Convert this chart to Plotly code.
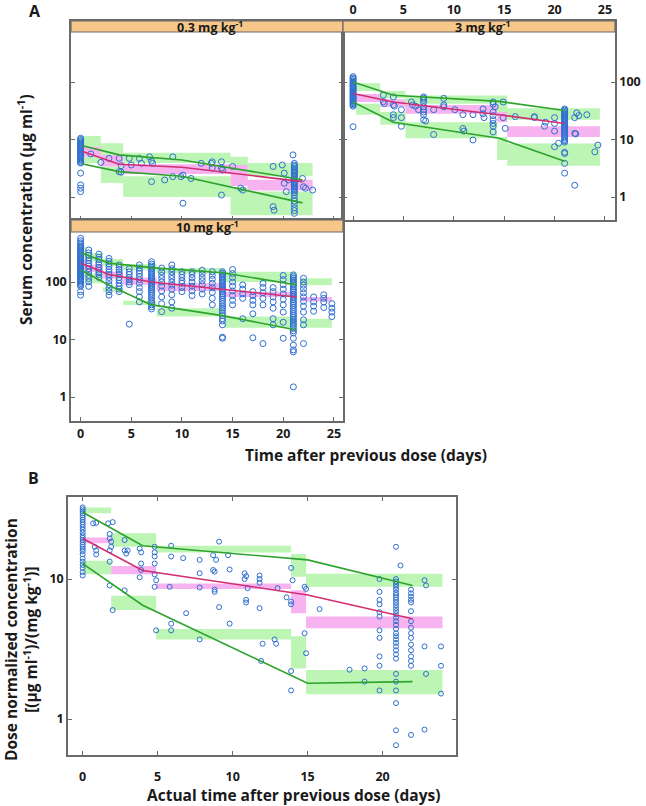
import plotly.graph_objects as go

W, H = 646, 806

# ---------------- Panel A : 0.3 mg/kg ----------------
a03_col_t = [0.0, 21.1]
a03_col_c = [
    [10.5, 10.0, 9.5, 9.1, 8.7, 8.3, 7.9, 7.6, 7.2, 6.9, 6.6, 6.3, 6.0, 5.8, 5.5, 5.3, 5.0, 4.8, 4.6, 4.4,
     4.2, 4.0, 3.9, 2.6, 1.62, 1.42, 1.24],
    [3.85, 3.6, 3.4, 3.2, 3.0, 2.85, 2.7, 2.55, 2.4, 2.28, 2.16, 2.05, 1.95, 1.85, 1.75, 1.66, 1.58, 1.5,
     1.42, 1.35, 1.28, 1.2, 1.1, 0.95, 0.85, 0.75, 0.65, 0.58, 0.52],
]
a03_pts = [[1.0, 5.6], [2.0, 4.0], [2.8, 4.7], [3.8, 4.7], [3.8, 2.76], [4.0, 2.7], [4.0, 3.5], [4.8, 4.7],
           [5.0, 3.6], [5.8, 4.7], [6.0, 3.85], [6.8, 5.0], [7.0, 4.2], [7.1, 3.85], [7.0, 1.85], [8.3, 1.98],
           [9.1, 5.0], [9.1, 2.26], [9.9, 2.26], [10.1, 2.4], [10.1, 0.78], [10.9, 2.1], [11.9, 3.85],
           [12.9, 3.85], [13.0, 3.2], [13.0, 4.1], [13.9, 4.1], [13.9, 3.2], [14.0, 2.95], [13.9, 1.08],
           [15.0, 3.4], [15.8, 1.42], [16.0, 1.32], [19.0, 3.4], [19.0, 0.68], [19.1, 0.59], [19.9, 3.6],
           [20.1, 2.6], [20.1, 1.73], [20.3, 1.24], [20.5, 1.98], [20.96, 5.4], [21.9, 2.1], [22.0, 1.51],
           [22.2, 1.42], [22.9, 1.32]]
a03_line_t = [0.2, 3.8, 10.0, 21.9]
a03_p95 = [7.8, 5.4, 4.4, 2.0]
a03_p50 = [6.2, 3.7, 3.3, 1.85]
a03_p5 = [3.75, 2.76, 2.3, 0.79]
a03_bin_x0 = [-0.05, 2.0, 4.2, 14.8, 16.5]
a03_bin_x1 = [2.0, 4.2, 14.8, 16.5, 22.9]
a03_p95_lo = [7.5, 5.4, 3.9, 3.5, 2.3]
a03_p95_hi = [11.5, 8.6, 5.9, 5.0, 3.9]
a03_p50_lo = [5.0, 3.4, 2.5, 1.55, 1.3]
a03_p50_hi = [7.5, 5.4, 3.7, 3.6, 2.0]
a03_p5_lo = [3.85, 1.75, 1.0, 0.48, 0.48]
a03_p5_hi = [5.0, 3.4, 2.3, 1.5, 1.25]

# ---------------- Panel A : 3 mg/kg ----------------
a3_col_t = [0.0, 21.0]
a3_col_c = [
    [124, 117, 111, 105, 100, 95, 91, 87, 83, 79, 76, 73, 70, 67, 64, 61, 58, 56, 54, 52, 50, 48, 46, 44,
     42, 40, 38, 16.7],
    [34, 32.5, 31, 29.5, 28, 26.8, 25.6, 24.5, 23.4, 22.3, 21.3, 20.3, 19.4, 18.5, 17.6, 16.8, 16, 15.2,
     14.5, 13.8, 13, 12.2, 11.4, 10.6, 10, 9.5, 9, 6, 5.7, 3.85, 2.6],
]
a3_pts = [[3.0, 59], [3.0, 45.5], [3.1, 42], [4.0, 55], [4.0, 40], [4.1, 38], [4.0, 27], [4.0, 24],
          [4.8, 33], [4.8, 24], [4.8, 17], [5.8, 45], [5.9, 40], [6.2, 38], [6.5, 33], [7.0, 55], [7.0, 52],
          [7.0, 48], [7.0, 44], [7.0, 37], [7.0, 33], [7.0, 30], [7.0, 27], [7.0, 22], [7.2, 21], [8.0, 12.2],
          [8.0, 33], [9.0, 52], [9.0, 40], [9.0, 37], [10.1, 33], [10.9, 27], [10.9, 15.5], [11.0, 14],
          [11.9, 9.8], [11.9, 27], [12.9, 34], [12.9, 28], [13.0, 24], [13.9, 45], [13.9, 41], [13.9, 30],
          [13.9, 26], [13.9, 22], [13.9, 19], [13.9, 17], [13.9, 13.5], [14.1, 37], [14.9, 45], [14.9, 24],
          [15.1, 15.6], [16.1, 25], [18.0, 25], [18.0, 24], [19.0, 17], [19.1, 20], [20.0, 24], [20.0, 19],
          [20.0, 14], [20.0, 7.5], [20.4, 8.6], [22.0, 24], [22.0, 12.8], [22.2, 29], [22.4, 26],
          [22.1, 12.5], [22.0, 1.6], [23.2, 27], [24.0, 6.1], [24.3, 8.0]]
a3_line_t = [0.0, 4.0, 14.5, 21.0]
a3_p95 = [100, 59, 46, 32]
a3_p50 = [63, 45, 27, 19]
a3_p5 = [45, 20, 10.5, 4.2]
a3_bin_x0 = [-0.3, 0.3, 2.7, 5.2, 14.3, 15.3]
a3_bin_x1 = [0.3, 2.7, 5.2, 14.3, 15.3, 24.5]
a3_p95_lo = [85, 70, 52, 42, 30, 22]
a3_p95_hi = [120, 95, 70, 58, 58, 35]
a3_p50_lo = [55, 45, 37, 28, 20, 11]
a3_p50_hi = [72, 62, 50, 40, 30, 17]
a3_p5_lo = [38, 27, 18, 10.5, 4.4, 3.5]
a3_p5_hi = [50, 42, 30, 20, 11, 8.5]

# ---------------- Panel A : 10 mg/kg ----------------
a10_col_t = [0.0, 0.8, 1.8, 2.8, 3.8, 4.8, 5.8, 7.0, 8.0, 9.0, 10.0, 11.0, 12.0, 13.0, 14.0,
             15.0, 16.0, 17.0, 18.0, 19.0, 20.0, 21.0, 22.0, 23.0, 24.0, 24.8]
a10_col_c = [
    [575, 520, 480, 450, 425, 400, 380, 360, 342, 325, 310, 295, 280, 267, 255, 243, 232, 221, 211, 201,
     192, 183, 175, 167, 159, 152, 145, 138, 132, 126, 120, 114, 109, 104, 99, 94, 89, 84, 68, 59],
    [360, 320, 290, 260, 235, 210, 190, 170, 150, 130, 115, 101, 84],
    [305, 270, 245, 220, 200, 180, 160, 145, 135, 120],
    [257, 230, 205, 185, 165, 150, 135, 120, 105, 90, 78, 68, 59],
    [198, 180, 165, 150, 135, 120, 108, 95, 85, 75, 68],
    [170, 150, 135, 120, 110, 100, 90, 18.5],
    [198, 175, 155, 140, 125, 110, 95, 80, 68, 55, 45],
    [225, 205, 190, 178, 166, 155, 145, 136, 128, 120, 113, 106, 100, 94, 88, 83, 78, 73, 68, 63, 58, 53,
     48, 44, 40, 37, 34],
    [175, 150, 130, 115, 100, 85, 70, 55, 42, 30.5],
    [198, 170, 150, 130, 115, 100, 88, 75, 60, 45, 35],
    [151, 135, 120, 105, 95, 80, 68],
    [151, 135, 118, 100, 85, 70, 58],
    [160, 140, 120, 105, 90, 75, 62],
    [151, 130, 112, 95, 80, 66, 52, 40],
    [151, 142, 134, 126, 119, 112, 105, 99, 93, 87, 82, 77, 72, 67, 62, 58, 54, 50, 46, 42, 38, 35, 32,
     29, 26, 23, 21, 18, 11, 10.5],
    [165, 140, 120, 100, 85, 70, 58, 48, 40],
    [89, 75, 62, 52, 23],
    [68, 58, 48, 40, 28, 10.7],
    [95, 80, 65, 52, 40, 8.5],
    [80, 68, 55, 45, 35, 23, 18],
    [130, 110, 90, 75, 62, 50, 40, 30, 20, 10.5],
    [133, 124, 116, 108, 101, 94, 88, 82, 76, 71, 66, 61, 57, 53, 49, 45, 42, 39, 36, 33, 30.5, 28, 26,
     24, 22, 20, 18.5, 17, 15.5, 14.2, 13, 10.5, 8, 6.6, 6.1, 1.5],
    [116, 100, 88, 76, 65, 55, 46, 38, 30, 22, 18, 8.5],
    [55, 45, 38, 31],
    [60, 52, 45, 36],
    [42, 35, 30, 25],
]
a10_line_t = [0.1, 2.8, 7.0, 14.0, 21.3]
a10_p95 = [318, 213, 178, 145, 89]
a10_p50 = [210, 135, 100, 75, 55]
a10_p5 = [160, 88, 40, 26, 14.6]
a10_bin_x0 = [-0.2, 0.5, 2.2, 4.2, 7.5, 14.2, 21.7]
a10_bin_x1 = [0.5, 2.2, 4.2, 7.5, 14.2, 21.3, 24.8]
a10_p95_lo = [270, 230, 190, 160, 140, 100, 88]
a10_p95_hi = [400, 320, 250, 205, 175, 150, 116]
a10_p50_lo = [170, 150, 115, 90, 70, 55, 46]
a10_p50_hi = [250, 200, 150, 120, 95, 68, 55]
a10_p5_lo = [120, 95, 68, 40, 25, 16, 16]
a10_p5_hi = [180, 140, 80, 47, 35, 25, 23]

# ---------------- Panel B : dose normalized ----------------
b_col_t = [0.0, 19.8, 20.9, 21.9]
b_col_c = [
    [32.5, 31.5, 30.5, 29.5, 28.5, 27.5, 26.5, 25.5, 24.5, 23.5, 22.5, 21.5, 20.5, 19.7, 19, 18.3, 17.6, 17,
     16.4, 15.8, 15, 14, 13.3, 12.6, 12, 11.2, 10.6],
    [10, 8.1, 7.1, 6.6, 5.8, 5.4, 4.3, 3.8, 2.8, 2.4, 1.6],
    [17, 10, 9.6, 9.2, 8.8, 8.4, 8.0, 7.7, 7.4, 7.1, 6.8, 6.5, 6.2, 5.9, 5.6, 5.3, 5.0, 4.7, 4.4, 4.1, 3.9,
     3.7, 3.5, 3.3, 3.1, 2.9, 2.7, 2.1, 1.85, 1.6, 1.3, 0.83, 0.65],
    [8.4, 7.9, 7.5, 7.1, 6.8, 5.9, 5.0, 4.5, 4.1, 3.8, 3.4, 3.1, 2.8, 2.6, 2.4, 0.77],
]
b_pts = [[0.7, 25], [0.9, 25.2], [0.8, 17], [0.9, 16], [0.9, 15], [1.7, 25], [2.0, 25.5], [1.8, 21],
         [1.8, 19.5], [1.9, 18.5], [1.9, 17], [1.8, 16], [1.8, 13.3], [1.8, 9.0], [2.0, 6.0], [2.8, 19],
         [2.8, 16], [3.0, 16], [2.9, 15.2], [2.8, 8.3], [3.8, 16.5], [3.9, 15.5], [3.9, 12.9], [3.9, 11.6],
         [3.8, 10.3], [4.8, 17], [4.8, 15.5], [4.8, 14.5], [4.8, 12.9], [4.8, 10.8], [4.9, 9.8], [4.8, 8.8],
         [4.9, 4.3], [5.9, 17.3], [5.9, 14.5], [5.8, 8.8], [5.9, 4.8], [5.9, 4.3], [6.7, 14.1], [6.9, 5.7],
         [7.8, 13.7], [7.8, 11], [7.8, 8.7], [7.8, 3.7], [8.7, 14.8], [8.7, 11.6], [8.8, 11.3],
         [8.8, 8.4], [8.8, 8.1], [8.9, 13.7], [9.1, 18.5], [9.1, 6.3], [9.7, 14.8], [9.8, 11.7], [9.8, 4.8],
         [10.8, 11], [10.8, 10], [10.9, 10.5], [10.9, 7.1], [10.9, 6.8], [11.0, 8.6], [11.8, 10.6],
         [11.8, 10], [11.8, 9.4], [11.8, 6.2], [12.0, 3.45], [12.8, 3.7], [12.9, 3.45], [11.9, 2.6],
         [13.0, 8.6], [13.6, 7.4], [13.9, 6.9], [13.9, 6.6], [13.9, 12], [14.0, 9.8], [13.9, 2.2],
         [13.9, 1.6], [14.8, 8.8], [14.9, 8.5], [14.8, 4.1], [14.9, 2.95], [15.8, 6.1], [17.8, 2.25],
         [18.8, 2.3], [18.8, 1.85], [21.2, 12.5], [22.8, 9.8], [22.9, 9.0], [22.8, 3.3], [22.9, 2.1],
         [22.8, 0.84], [23.9, 3.3], [23.9, 2.4], [23.9, 1.52]]
b_line_t = [0.0, 4.0, 15.0, 22.0]
b_p95 = [30, 17.3, 13.7, 9.0]
b_p50 = [19.5, 11.5, 7.7, 5.2]
b_p5 = [12.9, 6.5, 1.8, 1.85]
b_bin_x0 = [0.0, 1.9, 4.9, 13.9, 14.9]
b_bin_x1 = [1.9, 4.9, 13.9, 14.9, 24.0]
b_p95_lo = [29.5, 17, 15.5, 10.4, 8.8]
b_p95_hi = [32.5, 21.2, 17.3, 15.1, 10.9]
b_p50_lo = [18, 10.8, 8.5, 5.7, 4.45]
b_p50_hi = [19.8, 12.4, 9.3, 8.3, 5.4]
b_p5_lo = [10.8, 6.0, 3.7, 2.3, 1.5]
b_p5_hi = [13.5, 7.6, 4.4, 3.9, 2.24]

x_tickvals = [0, 5, 10, 15, 20, 25]
y_tickvals = [1, 10, 100]
b_x_tickvals = [0, 5, 10, 15, 20]
b_y_tickvals = [1, 10]

# ---------------- styling ----------------
GREEN_FILL = "#bdf5b5"
PINK_FILL = "#f7b3ef"
GREEN_LINE = "#2ea32e"
MED_LINE = "#d12f6f"
PT = "#2f6fd0"
FRAME = "#6a6a6a"
TXT = "#1a1a1a"
STRIP = "#f6c788"
FONT = "Open Sans"


def rects(x0s, x1s, lo, hi):
    xs, ys = [], []
    for a, b, l, h in zip(x0s, x1s, lo, hi):
        xs += [a, b, b, a, a, None]
        ys += [l, l, h, h, l, None]
    return xs, ys


fig = go.Figure()


def add_panel(xa, ya, x0s, x1s, p95lo, p95hi, p50lo, p50hi, p5lo, p5hi,
              line_t, p95, p50, p5, col_t, col_c, pts, msize):
    for lo, hi, col in [(p95lo, p95hi, GREEN_FILL), (p5lo, p5hi, GREEN_FILL), (p50lo, p50hi, PINK_FILL)]:
        xs, ys = rects(x0s, x1s, lo, hi)
        fig.add_trace(go.Scatter(x=xs, y=ys, mode="lines", fill="toself", fillcolor=col,
                                 line=dict(width=0, color=col), xaxis=xa, yaxis=ya,
                                 hoverinfo="skip", showlegend=False))
    tx, cy = [], []
    for t, vals in zip(col_t, col_c):
        for v in vals:
            tx.append(t)
            cy.append(v)
    for t, v in pts:
        tx.append(t)
        cy.append(v)
    fig.add_trace(go.Scatter(x=tx, y=cy, mode="markers",
                             marker=dict(symbol="circle-open", size=msize, color=PT, line=dict(width=1, color=PT)),
                             xaxis=xa, yaxis=ya, showlegend=False))
    for vals, col in [(p95, GREEN_LINE), (p5, GREEN_LINE), (p50, MED_LINE)]:
        fig.add_trace(go.Scatter(x=line_t, y=vals, mode="lines", line=dict(color=col, width=1.6),
                                 xaxis=xa, yaxis=ya, showlegend=False))


add_panel("x", "y", a03_bin_x0, a03_bin_x1, a03_p95_lo, a03_p95_hi, a03_p50_lo, a03_p50_hi,
          a03_p5_lo, a03_p5_hi, a03_line_t, a03_p95, a03_p50, a03_p5, a03_col_t, a03_col_c, a03_pts, 6)
add_panel("x2", "y2", a3_bin_x0, a3_bin_x1, a3_p95_lo, a3_p95_hi, a3_p50_lo, a3_p50_hi,
          a3_p5_lo, a3_p5_hi, a3_line_t, a3_p95, a3_p50, a3_p5, a3_col_t, a3_col_c, a3_pts, 6)
add_panel("x3", "y3", a10_bin_x0, a10_bin_x1, a10_p95_lo, a10_p95_hi, a10_p50_lo, a10_p50_hi,
          a10_p5_lo, a10_p5_hi, a10_line_t, a10_p95, a10_p50, a10_p5, a10_col_t, a10_col_c, [], 6)
add_panel("x4", "y4", b_bin_x0, b_bin_x1, b_p95_lo, b_p95_hi, b_p50_lo, b_p50_hi,
          b_p5_lo, b_p5_hi, b_line_t, b_p95, b_p50, b_p5, b_col_t, b_col_c, b_pts, 5)


def px(v):
    return v / W


def py(v):
    return 1 - v / H


tickfont = dict(family=FONT, size=12.5, color=TXT, weight="bold")
axis_common = dict(showline=True, linecolor=FRAME, linewidth=1.5, mirror="ticks", ticks="inside",
                   ticklen=4, tickcolor=FRAME, tickwidth=1, showgrid=False, zeroline=False,
                   tickfont=tickfont)

fig.update_layout(
    width=W, height=H, margin=dict(l=0, r=0, t=0, b=0),
    paper_bgcolor="white", plot_bgcolor="white",
    font=dict(family=FONT, color=TXT),
    xaxis=dict(domain=[px(71), px(343)], anchor="y", range=[-0.95, 25.9], tickvals=x_tickvals,
               showticklabels=False, **axis_common),
    yaxis=dict(domain=[py(220), py(21)], anchor="x", type="log", range=[-0.4, 3.061],
               tickvals=y_tickvals, showticklabels=False, **axis_common),
    xaxis2=dict(domain=[px(343), px(615)], anchor="y2", range=[-1.0, 26.0], tickvals=x_tickvals,
                side="top", **axis_common),
    yaxis2=dict(domain=[py(220), py(21)], anchor="x2", type="log", range=[-0.4, 3.061],
                tickvals=y_tickvals, ticktext=["1", "10", "100"], side="right", **axis_common),
    xaxis3=dict(domain=[px(71), px(343)], anchor="y3", range=[-0.95, 25.9], tickvals=x_tickvals,
                **axis_common),
    yaxis3=dict(domain=[py(421), py(220)], anchor="x3", type="log", range=[-0.417, 3.078],
                tickvals=y_tickvals, ticktext=["1", "10", "100"], **axis_common),
    xaxis4=dict(domain=[px(68), px(456)], anchor="y4", range=[-0.98, 24.9], tickvals=b_x_tickvals,
                ticklabelstandoff=9, **axis_common),
    yaxis4=dict(domain=[py(755), py(497)], anchor="x4", type="log", range=[-0.257, 1.586],
                tickvals=b_y_tickvals, ticktext=["1", "10"], **axis_common),
)

# strips
for (xl, xr, yt, yb, label, xc) in [(71, 343, 21, 32, "0.3 mg kg<sup>-1</sup>", 210),
                                    (343, 615, 21, 32, "3 mg kg<sup>-1</sup>", 483),
                                    (71, 343, 220, 232, "10 mg kg<sup>-1</sup>", 207)]:
    fig.add_shape(type="rect", xref="paper", yref="paper", x0=px(xl), x1=px(xr), y0=py(yb), y1=py(yt),
                  fillcolor=STRIP, line=dict(color=FRAME, width=1.2), layer="above")
    fig.add_annotation(xref="paper", yref="paper", x=px(xc), y=py((yt + yb) / 2 + 1), text=label,
                       showarrow=False, font=dict(family=FONT, size=12.5, color=TXT, weight="bold"),
                       xanchor="center", yanchor="middle")

title_font = dict(family=FONT, size=15.5, color=TXT, weight="bold")
fig.add_annotation(xref="paper", yref="paper", x=px(35), y=py(11), text="A", showarrow=False,
                   font=dict(family=FONT, size=16, color=TXT, weight="bold"), xanchor="center", yanchor="middle")
fig.add_annotation(xref="paper", yref="paper", x=px(33), y=py(478), text="B", showarrow=False,
                   font=dict(family=FONT, size=16, color=TXT, weight="bold"), xanchor="center", yanchor="middle")
fig.add_annotation(xref="paper", yref="paper", x=px(25), y=py(210),
                   text="Serum concentration (μg ml<sup>-1</sup>)", textangle=-90, showarrow=False,
                   font=dict(family=FONT, size=15.5, color=TXT, weight="bold"), xanchor="center", yanchor="middle")
fig.add_annotation(xref="paper", yref="paper", x=px(366), y=py(455),
                   text="Time after previous dose (days)", showarrow=False, font=title_font,
                   xanchor="center", yanchor="middle")
fig.add_annotation(xref="paper", yref="paper", x=px(21), y=py(640),
                   text="Dose normalized concentration<br>[(μg ml<sup>-1</sup>)/(mg kg<sup>-1</sup>)]",
                   textangle=-90, showarrow=False, font=dict(family=FONT, size=15.5, color=TXT, weight="bold"),
                   xanchor="center", yanchor="middle")
fig.add_annotation(xref="paper", yref="paper", x=px(293), y=py(795),
                   text="Actual time after previous dose (days)", showarrow=False, font=title_font,
                   xanchor="center", yanchor="middle")

# no mode bar; remove the browser's default 8px body margin so the figure sits at the window's corner
fig.write_html("out.html", config={"displayModeBar": False},
               post_script="document.body.style.margin='0';")
